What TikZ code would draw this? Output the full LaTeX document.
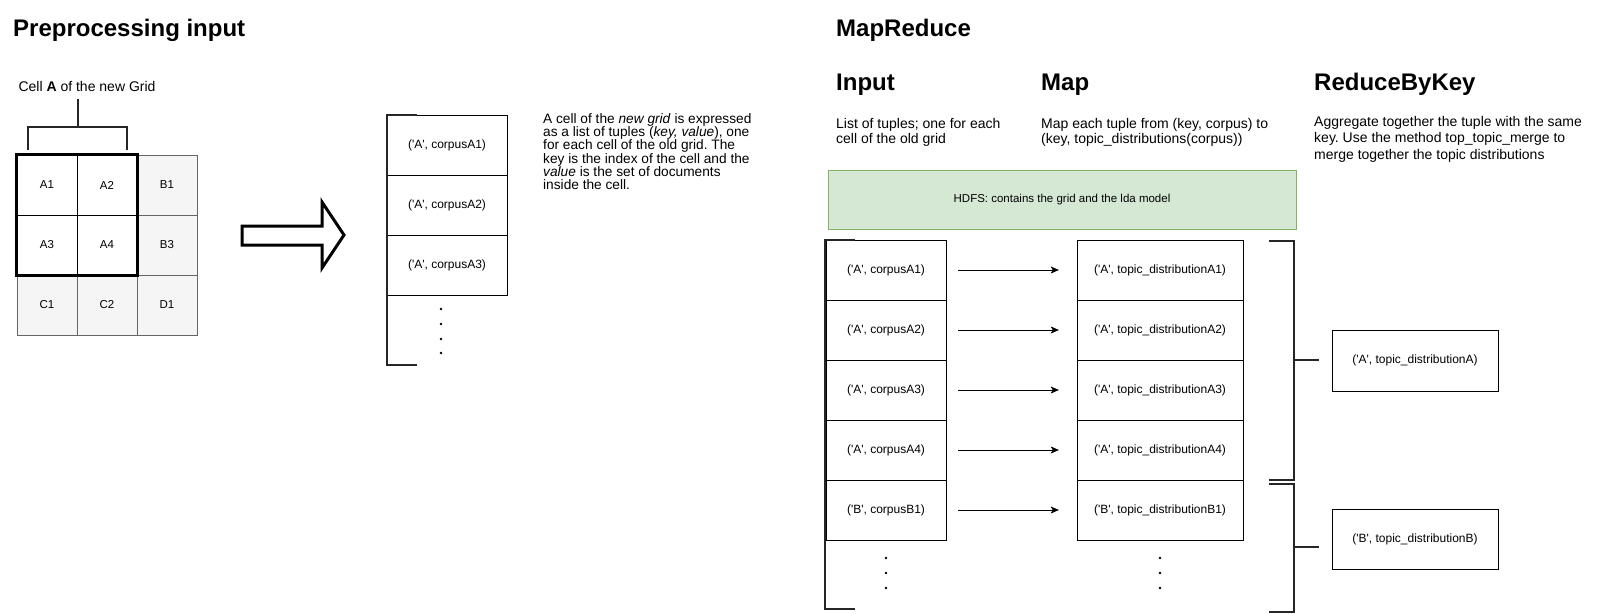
\documentclass[tikz,border=0pt]{standalone}
\usepackage{fontspec}
\setmainfont{Liberation Sans}[Ligatures=TeXOff]
\usetikzlibrary{arrows.meta}
\definecolor{cellgray}{HTML}{F5F5F5}
\definecolor{cellline}{HTML}{666666}
\definecolor{hdfsfill}{HTML}{D5E8D4}
\definecolor{hdfsline}{HTML}{82B366}
\frenchspacing

\begin{document}
\begin{tikzpicture}[x=1pt,y=-1pt,
  title/.style={font=\fontsize{24}{28}\selectfont\bfseries,anchor=west,inner sep=0pt},
  desc/.style={font=\fontsize{14}{16.5}\selectfont,anchor=north west,align=left,inner sep=0pt},
  cell/.style={draw=cellline,fill=cellgray,minimum width=60pt,minimum height=60pt,inner sep=0pt,font=\fontsize{11.5}{13}\selectfont},
  acell/.style={cell,draw=black,fill=white},
  tuple/.style={draw,minimum width=120pt,minimum height=60pt,inner sep=0pt,font=\fontsize{12}{14}\selectfont},
  wide/.style={tuple,minimum width=166pt},
  brace/.style={line width=2pt,black!85}]
\path[use as bounding box] (0,0) rectangle (1606,613);
% preprocessing
\node[title] (pretitle) at (13,30) {Preprocessing input};
\node[font=\fontsize{14}{16}\selectfont,inner sep=0pt] (celllabel) at (87,86) {Cell \textbf{A} of the new Grid};
\draw[brace] (78,99) -- (78,127);
\draw[brace] (28,150) -- (28,127) -- (127,127) -- (127,150);
\node[acell] (a1) at (47,185) {A1};
\node[acell] (a2) at (107,185) {A2};
\node[cell] (b1) at (167,185) {B1};
\node[acell] (a3) at (47,245) {A3};
\node[acell] (a4) at (107,245) {A4};
\node[cell] (b3) at (167,245) {B3};
\node[cell] (c1) at (47,305) {C1};
\node[cell] (c2) at (107,305) {C2};
\node[cell] (d1) at (167,305) {D1};
\draw[line width=3pt] (a1.north west) rectangle (a4.south east);
\draw[line width=3pt,fill=white,line join=miter] (242,226) -- (322,226) -- (322,202) -- (344,235)
  -- (322,268) -- (322,245) -- (242,245) -- cycle;
\node[tuple] (l1) at (447,145) {('A', corpusA1)};
\node[tuple] (l2) at (447,205) {('A', corpusA2)};
\node[tuple] (l3) at (447,265) {('A', corpusA3)};
\draw[brace] (417,115) -- (387,115) -- (387,365) -- (417,365);
\foreach \y in {309,324,339,353} \fill (441,\y) circle (1.4pt);
\node[desc,font=\fontsize{13.7}{13.3}\selectfont] (explain) at (543,113) {A cell of the \textit{new grid} is expressed\\
  as a list of tuples (\textit{key, value}), one\\
  for each cell of the old grid. The\\
  key is the index of the cell and the\\
  \textit{value} is the set of documents\\
  inside the cell.};
% mapreduce
\node[title] (mrtitle) at (836,30) {MapReduce};
\node[title] (intitle) at (836,85) {Input};
\node[title] (maptitle) at (1041,85) {Map};
\node[title] (redtitle) at (1314,84) {ReduceByKey};
\node[desc,font=\fontsize{14}{15}\selectfont] (indesc) at (836,118) {List of tuples; one for each\\cell of the old grid};
\node[desc,font=\fontsize{14}{15}\selectfont] (mapdesc) at (1041,118) {Map each tuple from (key, corpus) to\\(key, topic\_distributions(corpus))};
\node[desc] (reddesc) at (1314,116) {Aggregate together the tuple with the same\\key. Use the method top\_topic\_merge to\\merge together the topic distributions};
\node[draw=hdfsline,fill=hdfsfill,minimum width=468pt,minimum height=59pt,font=\fontsize{11.5}{13}\selectfont] (hdfs) at (1062,199.5) {HDFS: contains the grid and the lda model};
\node[tuple] (in1) at (886,270) {('A', corpusA1)};
\node[tuple] (in2) at (886,330) {('A', corpusA2)};
\node[tuple] (in3) at (886,390) {('A', corpusA3)};
\node[tuple] (in4) at (886,450) {('A', corpusA4)};
\node[tuple] (in5) at (886,510) {('B', corpusB1)};
\node[wide] (out1) at (1160,270) {('A', topic\_distributionA1)};
\node[wide] (out2) at (1160,330) {('A', topic\_distributionA2)};
\node[wide] (out3) at (1160,390) {('A', topic\_distributionA3)};
\node[wide] (out4) at (1160,450) {('A', topic\_distributionA4)};
\node[wide] (out5) at (1160,510) {('B', topic\_distributionB1)};
\foreach \i in {1,...,5}
  \draw[-{Stealth[length=8pt,width=7pt,inset=2pt]}] ([xshift=12pt]in\i.east) -- ([xshift=-18pt]out\i.west);
\draw[brace] (855,240) -- (825,240) -- (825,609) -- (855,609);
\foreach \y in {558,573,588} {
  \fill (886,\y) circle (1.4pt);
  \fill (1160,\y) circle (1.4pt);
}
\draw[brace] (1269,241) -- (1294,241) -- (1294,480) -- (1269,480);
\draw[brace] (1294,360) -- (1319,360);
\draw[brace] (1269,484) -- (1294,484) -- (1294,612) -- (1269,612);
\draw[brace] (1294,547) -- (1319,547);
\node[wide,minimum height=61pt] (redA) at (1415,360.5) {('A', topic\_distributionA)};
\node[wide] (redB) at (1415,539) {('B', topic\_distributionB)};
\end{tikzpicture}
\end{document}
